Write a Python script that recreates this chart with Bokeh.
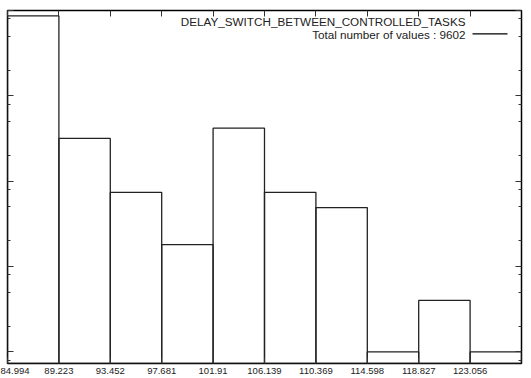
from bokeh.plotting import figure
from bokeh.models import (Range1d, FixedTicker, LinearAxis, LogAxis, CustomJSTickFormatter,
                          Label, BoxAnnotation, ColumnDataSource)
from bokeh.embed import file_html
from bokeh.resources import INLINE

# ---- data ----
bin_edges = [84.994, 89.223, 93.452, 97.681, 101.91, 106.139, 110.369,
             114.598, 118.827, 123.056, 127.285]
tick_labels = ["84.994", "89.223", "93.452", "97.681", "101.91", "106.139",
               "110.369", "114.598", "118.827", "123.056"]
counts = [8646, 317, 74, 18, 418, 74, 49, 1, 4, 1]
series_title = "DELAY_SWITCH_BETWEEN_CONTROLLED_TASKS"
y_major = [1, 10, 100, 1000, 10000]
y_minor = [0.8, 2, 5, 8, 20, 50, 80, 200, 500, 800, 2000, 5000, 8000]
y_floor = 0.73
y_top = 10000

FONT = "Liberation Sans"

p = figure(width=531, height=378, output_backend="svg", toolbar_location=None,
           x_range=Range1d(bin_edges[0], bin_edges[-1]),
           y_range=Range1d(y_floor, y_top), y_axis_type="log",
           min_border_left=7, min_border_right=10, min_border_top=10,
           min_border_bottom=15)
p.background_fill_color = "white"
p.border_fill_color = "white"
p.grid.visible = False
p.outline_line_color = "black"
p.outline_line_width = 1.5

src = ColumnDataSource(dict(left=bin_edges[:-1], right=bin_edges[1:], top=counts,
                            bottom=[y_floor] * len(counts)))
p.quad(left="left", right="right", top="top", bottom="bottom", source=src,
       fill_color=None, line_color="#222222", line_width=1.3)

blank = "return ''"


def style(ax, ticker, formatter_code=blank, args=None):
    ax.ticker = ticker
    ax.formatter = CustomJSTickFormatter(code=formatter_code, args=args or {})
    ax.axis_line_color = None
    ax.major_tick_in = 6
    ax.major_tick_out = 0
    ax.minor_tick_in = 3
    ax.minor_tick_out = 0
    ax.major_tick_line_color = "#333333"
    ax.minor_tick_line_color = "#333333"
    ax.major_label_standoff = 0


label_code = """
const i = edges.findIndex(e => Math.abs(e - tick) < 1e-6);
return i >= 0 ? labels[i] : '';
"""
xa = p.xaxis[0]
style(xa, FixedTicker(ticks=bin_edges[:-1], minor_ticks=[]), label_code,
      dict(edges=bin_edges[:-1], labels=tick_labels))
xa.major_label_standoff = 4
xa.major_label_text_font = FONT
xa.major_label_text_font_size = "9.5px"
xa.major_label_text_color = "#222222"

ya = p.yaxis[0]
style(ya, FixedTicker(ticks=y_major, minor_ticks=y_minor))
ya.major_label_text_font_size = "0px"

top_ax = LinearAxis()
style(top_ax, FixedTicker(ticks=bin_edges[:-1], minor_ticks=[]))
top_ax.major_label_text_font_size = "0px"
p.add_layout(top_ax, "above")
right_ax = LogAxis()
style(right_ax, FixedTicker(ticks=y_major, minor_ticks=y_minor))
right_ax.major_label_text_font_size = "0px"
p.add_layout(right_ax, "right")

# key (gnuplot style)
p.add_layout(Label(x=458, y=342, x_units="screen", y_units="screen",
                   text=series_title, text_align="right", text_baseline="middle",
                   text_font=FONT, text_font_size="11.7px", text_color="#222222"))
p.add_layout(Label(x=458, y=329.5, x_units="screen", y_units="screen",
                   text=f"Total number of values : {sum(counts)}", text_align="right",
                   text_baseline="middle", text_font=FONT, text_font_size="11.7px",
                   text_color="#222222"))
p.add_layout(BoxAnnotation(left=465, right=500, bottom=329, top=330.2,
                           left_units="screen", right_units="screen",
                           bottom_units="screen", top_units="screen",
                           fill_color="black", fill_alpha=1.0,
                           line_color=None))

open("out.html", "w").write(file_html(p, INLINE))
